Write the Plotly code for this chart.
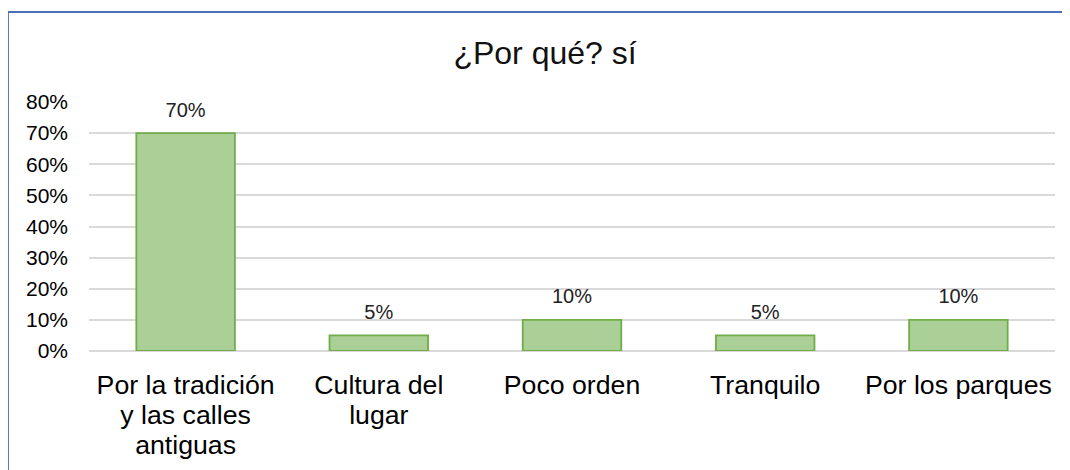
import plotly.graph_objects as go

categories = ["Por la tradición<br>y las calles<br>antiguas", "Cultura del<br>lugar", "Poco orden", "Tranquilo", "Por los parques"]
values = [0.70, 0.05, 0.10, 0.05, 0.10]
labels = ["70%", "5%", "10%", "5%", "10%"]
y_ticks = [0, 0.1, 0.2, 0.3, 0.4, 0.5, 0.6, 0.7, 0.8]
y_tick_text = ["0%", "10%", "20%", "30%", "40%", "50%", "60%", "70%", "80%"]

# page body has an 8px margin, so the figure sits at (8, 8) on screen
W, H = 1062, 462
L, R, T, B = 81, 15, 94, 119
pw, ph = W - L - R, H - T - B

def px_x(p):
    return (p - L) / pw

def px_y(p):
    return (H - B - p) / ph

span = '<span style="font-size:26.7px">'
tick_text = [span + c.replace("<br>", "</span><br>" + span) + "</span>" for c in categories]

fig = go.Figure()
fig.add_trace(go.Bar(
    x=categories, y=values,
    marker=dict(color="#aacf97", line=dict(color="#70ad47", width=1.8)),
    hoverinfo="skip",
))
fig.add_trace(go.Scatter(
    x=categories, y=values, text=labels, mode="markers+text",
    textposition="top center",
    marker=dict(size=17, color="rgba(0,0,0,0)", opacity=0, line=dict(width=0)),
    textfont=dict(family="Liberation Sans, Arial", size=20, color="#222222"),
    cliponaxis=False, hoverinfo="skip",
))

fig.update_layout(
    width=W, height=H,
    margin=dict(l=L, r=R, t=T, b=B, autoexpand=False),
    paper_bgcolor="white", plot_bgcolor="white",
    bargap=0.49,
    showlegend=False,
    font=dict(family="Liberation Sans, Arial", color="#000000"),
    title=dict(text="¿Por qué? sí", x=537 / W, xanchor="center", xref="container",
               y=1 - 45 / H, yanchor="middle", yref="container",
               font=dict(size=32, color="#111111", family="Liberation Sans, Arial")),
    xaxis=dict(showgrid=False, showline=False, zeroline=False, automargin=False,
               tickvals=categories, ticktext=tick_text,
               tickfont=dict(size=22.8, color="#000000"),
               ticks="outside", ticklen=15, tickcolor="rgba(0,0,0,0)"),
    yaxis=dict(range=[0, 0.8], tickvals=y_ticks, ticktext=y_tick_text, automargin=False,
               showgrid=True, gridcolor="#d9d9d9", gridwidth=1.5,
               zeroline=True, zerolinecolor="#d9d9d9", zerolinewidth=1.5,
               showline=False, tickfont=dict(size=21, color="#000000"),
               ticklabelstandoff=20),
    shapes=[
        dict(type="line", xref="paper", yref="paper", x0=px_x(0), x1=px_x(1070),
             y0=px_y(4), y1=px_y(4), line=dict(color="#4a70b8", width=1.8)),
        dict(type="line", xref="paper", yref="paper", x0=px_x(0), x1=px_x(0),
             y0=px_y(4), y1=px_y(470), line=dict(color="#4a70b8", width=1.8)),
    ],
)

fig.write_html("out.html")
